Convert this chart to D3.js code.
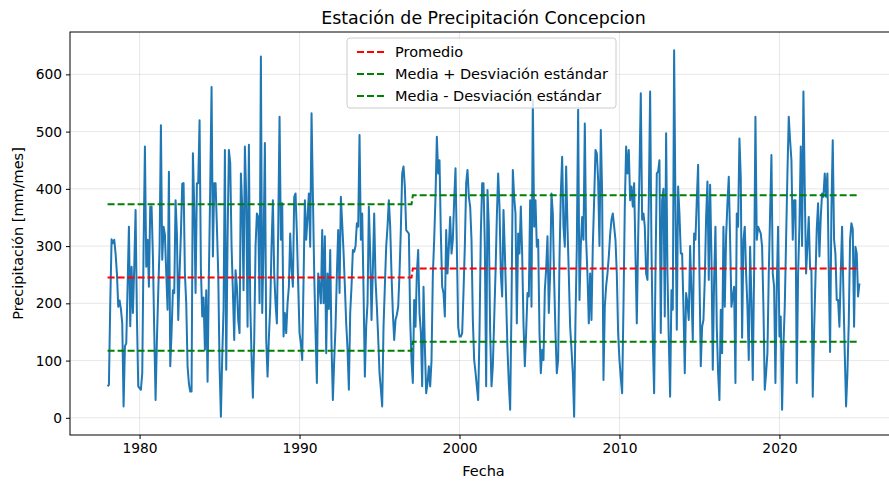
<!DOCTYPE html>
<html>
<head>
<meta charset="utf-8">
<script src="https://cdn.jsdelivr.net/npm/d3@7"></script>
<style>
  body { margin: 0; background: #fff; }
  svg text { font-family: "DejaVu Sans", sans-serif; fill: #000; }
</style>
</head>
<body>
<svg id="chart" width="889" height="481"></svg>
<script>
// Monthly precipitation (mm/mes), Concepcion station, starting January 1978
const startYear = 1978;
const precipitation = [
  // 1978
  55, 58, 200, 312, 305, 311, 287, 252, 194, 205, 190, 165,
  // 1979
  20, 125, 130, 230, 334, 160, 264, 183, 264, 363, 177, 55,
  // 1980
  52, 49, 78, 300, 474, 264, 311, 229, 369, 369, 282, 150,
  // 1981
  31, 136, 220, 299, 511, 276, 334, 320, 252, 189, 430, 90,
  // 1982
  150, 223, 218, 380, 322, 171, 252, 322, 409, 410, 252, 200,
  // 1983
  90, 60, 46, 46, 462, 369, 218, 410, 410, 520, 260, 177,
  // 1984
  210, 119, 223, 63, 252, 404, 578, 282, 410, 410, 334, 252,
  // 1985
  90, 2, 107, 190, 468, 84, 311, 468, 445, 300, 220, 136,
  // 1986
  258, 229, 170, 148, 427, 369, 223, 474, 386, 159, 477, 200,
  // 1987
  107, 35, 136, 300, 357, 351, 200, 631, 183, 300, 480, 136,
  // 1988
  72, 140, 194, 300, 380, 252, 200, 165, 330, 526, 311, 375,
  // 1989
  142, 183, 148, 200, 229, 322, 260, 229, 386, 392, 322, 230,
  // 1990
  148, 130, 101, 240, 380, 311, 350, 392, 299, 532, 392, 252,
  // 1991
  150, 61, 252, 230, 200, 328, 200, 317, 113, 252, 190, 293,
  // 1992
  125, 31, 100, 159, 250, 328, 218, 386, 340, 290, 230, 165,
  // 1993
  120, 49, 183, 230, 293, 290, 300, 340, 334, 494, 311, 357,
  // 1994
  223, 72, 160, 200, 369, 287, 171, 260, 357, 241, 194, 140,
  // 1995
  78, 50, 20, 159, 230, 299, 334, 380, 334, 250, 183, 136,
  // 1996
  171, 180, 194, 252, 330, 427, 439, 404, 328, 325, 322, 171,
  // 1997
  100, 61, 206, 159, 252, 293, 183, 150, 55, 229, 125, 43,
  // 1998
  60, 90, 55, 100, 250, 311, 386, 491, 427, 450, 322, 229,
  // 1999
  218, 177, 328, 252, 299, 351, 287, 311, 380, 436, 299, 159,
  // 2000
  142, 142, 148, 220, 300, 410, 433, 386, 369, 311, 171, 101,
  // 2001
  80, 55, 31, 148, 322, 410, 410, 300, 55, 398, 334, 150,
  // 2002
  55, 90, 170, 252, 350, 427, 369, 252, 212, 363, 290, 206,
  // 2003
  119, 60, 14, 194, 433, 386, 357, 165, 322, 287, 369, 287,
  // 2004
  165, 90, 150, 218, 212, 380, 194, 555, 334, 380, 299, 311,
  // 2005
  148, 78, 119, 101, 223, 260, 317, 183, 252, 392, 357, 241,
  // 2006
  148, 78, 101, 276, 392, 456, 334, 299, 439, 334, 250, 159,
  // 2007
  120, 78, 2, 171, 299, 538, 206, 300, 351, 311, 514, 311,
  // 2008
  250, 165, 252, 171, 300, 380, 468, 462, 415, 300, 503, 392,
  // 2009
  66, 194, 230, 252, 282, 320, 346, 357, 334, 311, 252, 148,
  // 2010
  101, 70, 43, 194, 369, 474, 427, 468, 380, 404, 369, 410,
  // 2011
  287, 165, 311, 427, 567, 346, 357, 334, 252, 241, 380, 570,
  // 2012
  299, 136, 43, 252, 427, 430, 450, 148, 380, 400, 177, 497,
  // 2013
  252, 136, 37, 223, 189, 642, 369, 154, 404, 357, 287, 287,
  // 2014
  194, 78, 218, 200, 171, 300, 218, 136, 322, 311, 380, 442,
  // 2015
  252, 90, 159, 171, 241, 350, 413, 241, 407, 282, 84, 241,
  // 2016
  334, 159, 78, 31, 189, 113, 334, 194, 317, 375, 421, 311,
  // 2017
  194, 212, 229, 61, 357, 334, 488, 420, 140, 311, 334, 252,
  // 2018
  194, 101, 299, 206, 66, 252, 526, 311, 334, 328, 322, 299,
  // 2019
  194, 49, 78, 113, 252, 357, 459, 252, 229, 61, 229, 334,
  // 2020
  142, 177, 14, 125, 194, 311, 427, 526, 485, 450, 311, 380,
  // 2021
  380, 61, 252, 334, 474, 300, 570, 400, 252, 300, 351, 260,
  // 2022
  258, 37, 150, 240, 330, 375, 282, 350, 392, 386, 427, 386,
  // 2023
  427, 258, 115, 363, 485, 311, 287, 206, 206, 159, 252, 334,
  // 2024
  218, 113, 20, 78, 165, 311, 340, 330, 159, 299, 287, 212,
  // 2025
  235
];

// Reference periods: first month index of each period, its mean and standard deviation
const periodStart = [0, 229];
const periodMean = [245, 261];
const periodStd = [128, 128];

const yTicks = [0, 100, 200, 300, 400, 500, 600];
const xTicks = [1980, 1990, 2000, 2010, 2020];
const legendLabels = ["Promedio", "Media + Desviación estándar", "Media - Desviación estándar"];
const legendColors = ["red", "green", "green"];

const titleText = "Estación de Precipitación Concepcion";
const xLabel = "Fecha";
const yLabel = "Precipitación [mm/mes]";

// ---------- layout ----------
const W = 889, H = 481;
const plot = { left: 70, top: 32, right: 897, bottom: 435 };
const tickFont = 13.8, labelFont = 14.5, titleFont = 17.4;

const svg = d3.select("#chart");

const series = precipitation.map((v, i) => ({ t: startYear + i / 12, v, i }));
const periodOf = i => d3.bisectRight(periodStart, i) - 1;

const tExt = d3.extent(series, d => d.t);
const tPad = (tExt[1] - tExt[0]) * 0.05;
const x = d3.scaleLinear().domain([tExt[0] - tPad, tExt[1] + tPad]).range([plot.left, plot.right]);

const vExt = d3.extent(precipitation);
const vPad = (vExt[1] - vExt[0]) * 0.05;
const y = d3.scaleLinear().domain([vExt[0] - vPad, vExt[1] + vPad]).range([plot.bottom, plot.top]);

svg.append("defs").append("clipPath").attr("id", "plotClip")
  .append("rect")
  .attr("x", plot.left).attr("y", plot.top)
  .attr("width", plot.right - plot.left).attr("height", plot.bottom - plot.top);

// ---------- grid ----------
const grid = svg.append("g").attr("clip-path", "url(#plotClip)");
grid.selectAll("line.gy").data(yTicks).join("line")
  .attr("x1", plot.left).attr("x2", plot.right)
  .attr("y1", d => y(d)).attr("y2", d => y(d))
  .attr("stroke", "#b0b0b0").attr("stroke-opacity", 0.3).attr("stroke-width", 1);
grid.selectAll("line.gx").data(xTicks).join("line")
  .attr("y1", plot.top).attr("y2", plot.bottom)
  .attr("x1", d => x(d)).attr("x2", d => x(d))
  .attr("stroke", "#b0b0b0").attr("stroke-opacity", 0.3).attr("stroke-width", 1);

// ---------- data ----------
const marks = svg.append("g").attr("clip-path", "url(#plotClip)");

marks.append("path")
  .datum(series)
  .attr("fill", "none")
  .attr("stroke", "#1f77b4")
  .attr("stroke-width", 2)
  .attr("stroke-linejoin", "round")
  .attr("d", d3.line().x(d => x(d.t)).y(d => y(d.v)));

const refLines = [
  { f: i => periodMean[periodOf(i)], color: legendColors[0] },
  { f: i => periodMean[periodOf(i)] + periodStd[periodOf(i)], color: legendColors[1] },
  { f: i => periodMean[periodOf(i)] - periodStd[periodOf(i)], color: legendColors[2] }
];
refLines.forEach(r => {
  marks.append("path")
    .datum(series)
    .attr("fill", "none")
    .attr("stroke", r.color)
    .attr("stroke-width", 2)
    .attr("stroke-dasharray", "7,3")
    .attr("d", d3.line().x(d => x(d.t)).y(d => y(r.f(d.i))));
});

// ---------- axes ----------
const xAxis = d3.axisBottom(x).tickValues(xTicks).tickFormat(d3.format("d")).tickSize(4).tickPadding(4);
const yAxis = d3.axisLeft(y).tickValues(yTicks).tickFormat(d3.format("d")).tickSize(4).tickPadding(4);

const gx = svg.append("g").attr("transform", `translate(0,${plot.bottom})`).call(xAxis);
const gy = svg.append("g").attr("transform", `translate(${plot.left},0)`).call(yAxis);
[gx, gy].forEach(g => {
  g.select(".domain").remove();
  g.selectAll(".tick line").attr("stroke", "#000").attr("stroke-width", 1);
  g.selectAll(".tick text").attr("font-size", tickFont).attr("font-family", "DejaVu Sans, sans-serif").attr("fill", "#000");
});

// spines
svg.append("rect")
  .attr("x", plot.left).attr("y", plot.top)
  .attr("width", plot.right - plot.left).attr("height", plot.bottom - plot.top)
  .attr("fill", "none").attr("stroke", "#000").attr("stroke-width", 1);

// ---------- labels ----------
const cx = (plot.left + plot.right) / 2;
svg.append("text").attr("x", cx).attr("y", 24)
  .attr("text-anchor", "middle").attr("font-size", titleFont).text(titleText);
svg.append("text").attr("x", cx).attr("y", 476)
  .attr("text-anchor", "middle").attr("font-size", labelFont).text(xLabel);
svg.append("text")
  .attr("transform", `translate(23,${(plot.top + plot.bottom) / 2}) rotate(-90)`)
  .attr("text-anchor", "middle").attr("font-size", labelFont).text(yLabel);

// ---------- legend ----------
const lg = svg.append("g");
const lgX = 347, lgY = 38, rowH = 22;
const frame = lg.append("rect")
  .attr("x", lgX).attr("y", lgY).attr("rx", 3).attr("ry", 3)
  .attr("fill", "#fff").attr("fill-opacity", 0.8)
  .attr("stroke", "#cccccc").attr("stroke-width", 1);
let maxW = 0;
legendLabels.forEach((lab, k) => {
  const cy = lgY + 14 + k * rowH;
  lg.append("line")
    .attr("x1", lgX + 10).attr("x2", lgX + 38)
    .attr("y1", cy).attr("y2", cy)
    .attr("stroke", legendColors[k]).attr("stroke-width", 2).attr("stroke-dasharray", "7,3");
  const t = lg.append("text")
    .attr("x", lgX + 48).attr("y", cy).attr("dy", "0.35em")
    .attr("font-size", labelFont).text(lab);
  maxW = Math.max(maxW, t.node().getComputedTextLength());
});
frame.attr("width", 48 + maxW + 8).attr("height", rowH * legendLabels.length + 4);
</script>
</body>
</html>
